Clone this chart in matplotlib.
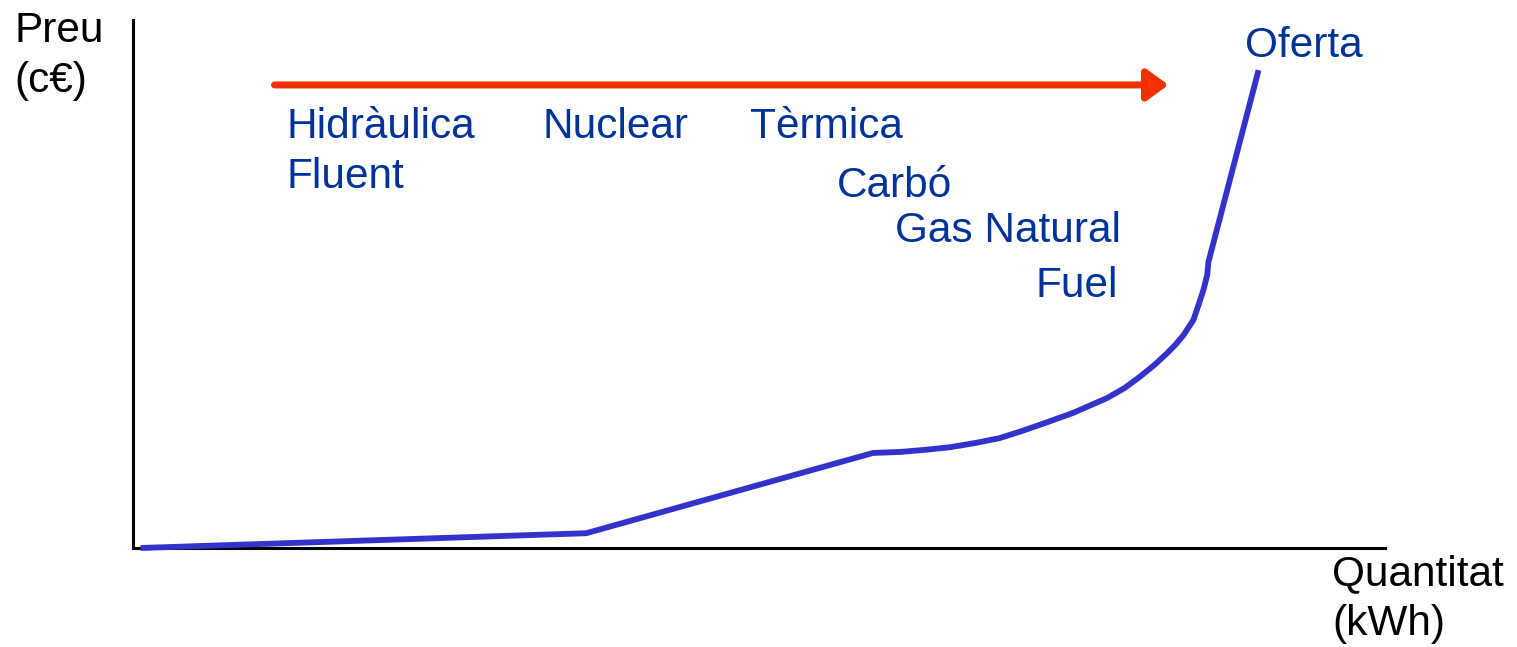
import matplotlib.pyplot as plt

# corba d'oferta (quantitat, preu) en unitats relatives 0..100
quantitat = [0.6, 36.2, 59.1, 61.3, 63.3, 65.3, 67.3, 69.2, 70.8, 72.4, 75.1, 77.8, 79.2,
             80.4, 81.6, 82.6, 83.3, 83.9, 84.7, 85.1, 85.5, 85.8, 85.9, 89.9]
preu = [0.0, 2.8, 18.0, 18.2, 18.6, 19.1, 19.9, 20.8, 22.0, 23.3, 25.6, 28.4, 30.3,
        32.4, 34.7, 36.9, 38.6, 40.3, 43.2, 46.0, 48.9, 51.7, 54.2, 90.5]

# etiquetes de les tecnologies: (text, x, y, alineacio)
etiquetes = [
    ("Hidràulica", 12.3, 77.6, "left"),
    ("Fluent", 12.3, 68.2, "left"),
    ("Nuclear", 32.7, 77.6, "left"),
    ("Tèrmica", 49.3, 77.6, "left"),
    ("Carbó", 56.2, 66.5, "left"),
    ("Gas Natural", 60.9, 58.0, "left"),
    ("Fuel", 78.7, 47.5, "right"),
    ("Oferta", 88.8, 93.0, "left"),
]
eix_y = [("Preu", 95.8), ("(c€)", 86.4)]
eix_x = [("Quantitat", -7.0), ("(kWh)", -16.5)]
fletxa = (11.3, 82.7, 87.7)

plt.rcParams['font.family'] = ['Liberation Sans', 'DejaVu Sans']

fig = plt.figure(figsize=(15.17, 6.47), dpi=100)
W, H = 1517, 647
ax = fig.add_axes([133 / W, (H - 548) / H, (1385 - 133) / W, (548 - 20) / H])
ax.set_xlim(0, 100)
ax.set_ylim(0, 100)
ax.set_xticks([])
ax.set_yticks([])
for s in ['top', 'right']:
    ax.spines[s].set_visible(False)
for s in ['left', 'bottom']:
    ax.spines[s].set_linewidth(2.2)
    ax.spines[s].set_color('black')

ax.plot(quantitat, preu, color='#3333cc', lw=4.2, solid_capstyle='butt',
        solid_joinstyle='round', clip_on=False, zorder=3)

x0, x1, yf = fletxa
ax.annotate('', xy=(x1, yf), xytext=(x0, yf),
            arrowprops=dict(arrowstyle='-|>,head_length=1.3,head_width=0.95', mutation_scale=10,
                            lw=5, fc='#ff3300', ec='#f03000', shrinkA=0, shrinkB=0))

for txt, x, y, ha in etiquetes:
    ax.text(x, y, txt, fontsize=30.5, color='#003399', ha=ha, va='baseline')

for txt, y in eix_y:
    ax.text(-9.5, y, txt, fontsize=30.5, color='black', ha='left', va='baseline', clip_on=False)
for txt, y in eix_x:
    ax.text(95.8, y, txt, fontsize=30.5, color='black', ha='left', va='baseline', clip_on=False)

fig.savefig('out.png', dpi=100)
